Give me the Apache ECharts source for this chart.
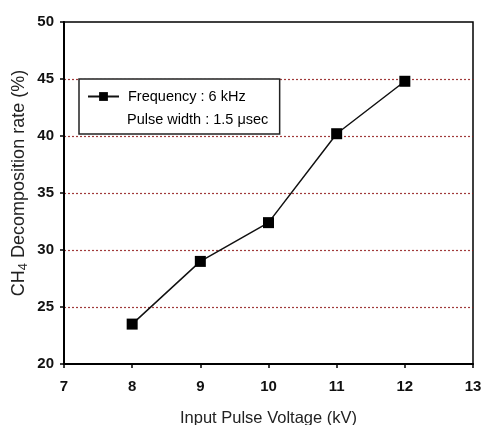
<!DOCTYPE html>
<html><head><meta charset="utf-8">
<script src="https://cdn.jsdelivr.net/npm/echarts@6/dist/echarts.min.js"></script>
<style>html,body{margin:0;padding:0;background:#fff}#c{width:485px;height:425px}</style>
</head><body><div id="c"></div>
<script>
const voltages = [8, 9, 10, 11, 12];
const decompositionRate = [23.5, 29.0, 32.4, 40.2, 44.8];
const seriesName = 'Frequency : 6 kHz';
const noteLine = 'Pulse width : 1.5 \u03bcsec';
const xTitle = 'Input Pulse Voltage (kV)';
const yTitleParts = ['CH', '4', ' Decomposition rate (%)'];

const chart = echarts.init(document.getElementById('c'));
const font = 'Liberation Sans, Arial, sans-serif';
chart.setOption({
  animation: false,
  grid: {left: 64, right: 12, top: 22, bottom: 61, containLabel: false, outerBoundsMode: 'none',
         show: true, borderColor: '#000', borderWidth: 1.5},
  xAxis: {
    type: 'value', min: 7, max: 13, interval: 1,
    name: xTitle, nameLocation: 'middle', nameGap: 46,
    nameTextStyle: {fontFamily: font, fontSize: 16.5, color: '#222'},
    axisLine: {lineStyle: {color: '#000', width: 2}},
    axisTick: {show: true, length: 4, lineStyle: {color: '#000', width: 1.5}},
    axisLabel: {fontFamily: font, fontSize: 15, fontWeight: 'bold', color: '#111', margin: 15},
    splitLine: {show: false}
  },
  yAxis: {
    type: 'value', min: 20, max: 50, interval: 5,
    axisLine: {lineStyle: {color: '#000', width: 2}},
    axisTick: {show: true, length: 4, lineStyle: {color: '#000', width: 1.5}},
    axisLabel: {fontFamily: font, fontSize: 15, fontWeight: 'bold', color: '#111', margin: 10},
    splitLine: {show: true, showMinLine: false, showMaxLine: false,
                lineStyle: {color: '#901818', type: [2, 2], width: 1.2, opacity: 0.85}}
  },
  legend: {
    left: 79, top: 79, orient: 'vertical',
    data: [{name: seriesName}],
    itemWidth: 31, itemHeight: 11,
    padding: [10, 34, 30, 8],
    borderColor: '#222', borderWidth: 1.5, backgroundColor: '#fff', borderRadius: 0,
    textStyle: {fontFamily: font, fontSize: 14.5, color: '#000', padding: [0, 0, 0, 4]}
  },
  graphic: [{
    type: 'text', left: 127, top: 112, z: 100,
    style: {text: noteLine, font: '14.5px ' + font, fill: '#000'}
  }, {
    type: 'text', x: 19, y: 183, rotation: Math.PI / 2, z: 100,
    style: {
      text: '{a|' + yTitleParts[0] + '}{s|' + yTitleParts[1] + '}{a|' + yTitleParts[2] + '}',
      align: 'center', verticalAlign: 'middle',
      rich: {
        a: {fontFamily: font, fontSize: 18, fill: '#222', color: '#222'},
        s: {fontFamily: font, fontSize: 13, fill: '#222', color: '#222', padding: [8, 0, 0, 0]}
      }
    }
  }],
  series: [{
    name: seriesName, type: 'line',
    data: voltages.map((v, i) => [v, decompositionRate[i]]),
    symbol: 'rect', symbolSize: 11,
    lineStyle: {color: '#111', width: 1.5},
    itemStyle: {color: '#000'}
  }]
});
</script></body></html>
